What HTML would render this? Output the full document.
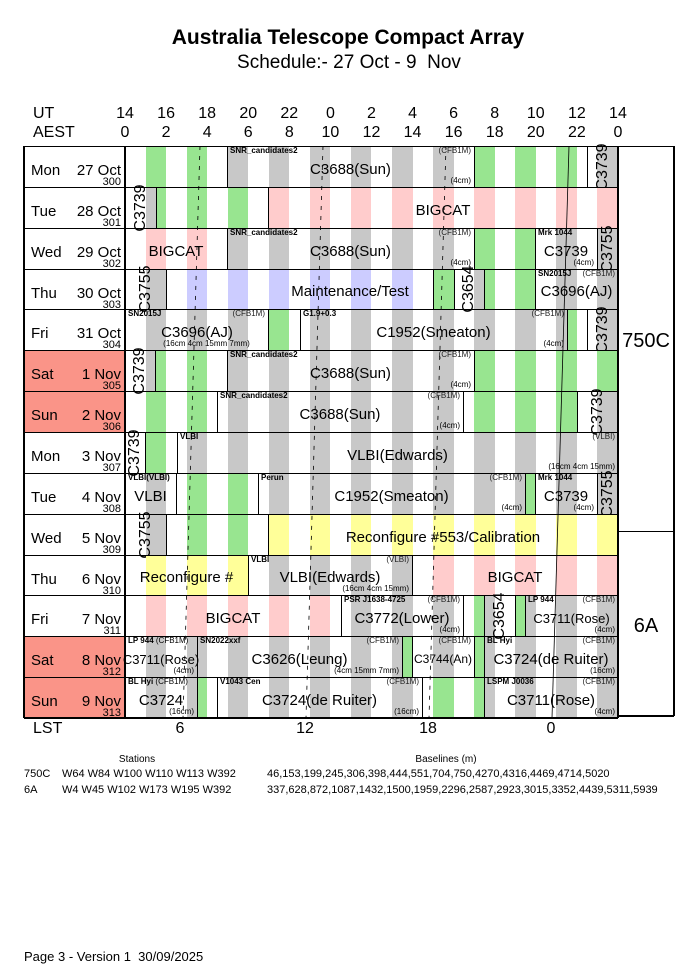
<!DOCTYPE html>
<html><head><meta charset="utf-8">
<style>
body{margin:0;background:#fff;}
#c{position:relative;width:680px;height:978px;overflow:hidden;font-family:"Liberation Sans",Arial,sans-serif;color:#000;}
.a{position:absolute;white-space:nowrap;}
.r{position:absolute;}
</style></head><body>
<div id="c">
<div class="a" style="left:0;width:696px;text-align:center;top:26px;font-size:21px;font-weight:bold;">Australia Telescope Compact Array</div>
<div class="a" style="left:0;width:698px;text-align:center;top:52px;font-size:19px;">Schedule:- 27 Oct - 9&nbsp; Nov</div>
<div class="a" style="left:33px;top:105px;font-size:16px;">UT</div>
<div class="a" style="left:33px;top:124px;font-size:16px;">AEST</div>
<div class="a" style="left:33px;top:720px;font-size:16px;">LST</div>
<div class="a" style="left:137px;top:754px;font-size:10px;transform:translateX(-50%);">Stations</div>
<div class="a" style="left:446px;top:754px;font-size:10px;transform:translateX(-50%);">Baselines (m)</div>
<div class="a" style="left:24px;top:768px;font-size:11px;">750C</div>
<div class="a" style="left:62px;top:768px;font-size:11px;">W64 W84 W100 W110 W113 W392</div>
<div class="a" style="left:267px;top:768px;font-size:11px;">46,153,199,245,306,398,444,551,704,750,4270,4316,4469,4714,5020</div>
<div class="a" style="left:24px;top:784px;font-size:11px;">6A</div>
<div class="a" style="left:62px;top:784px;font-size:11px;">W4 W45 W102 W173 W195 W392</div>
<div class="a" style="left:267px;top:784px;font-size:11px;">337,628,872,1087,1432,1500,1959,2296,2587,2923,3015,3352,4439,5311,5939</div>
<div class="a" style="left:24px;top:949px;font-size:13px;">Page 3 - Version 1&nbsp; 30/09/2025</div>
</div>
<script>
var C=document.getElementById('c');
function el(h){var d=document.createElement('div');d.innerHTML=h;var e=d.firstChild;C.appendChild(e);return e;}
function box(x,y,w,h,st){el('<div class="r" style="left:'+x+'px;top:'+y+'px;width:'+w+'px;height:'+h+'px;'+st+'"></div>');}
function txt(x,y,s,st){el('<div class="a" style="left:'+x+'px;top:'+y+'px;'+st+'">'+s+'</div>');}
var X0=125,HW=20.54,T=146,RH=40.86;
var ut=[14,16,18,20,22,0,2,4,6,8,10,12,14],ae=[0,2,4,6,8,10,12,14,16,18,20,22,0];
for(var i=0;i<13;i++){var x=X0+41.08*i;txt(x-20,105,ut[i],'width:40px;text-align:center;font-size:16px;');txt(x-20,124,ae[i],'width:40px;text-align:center;font-size:16px;');}
[[180,'6'],[305,'12'],[428,'18'],[551,'0']].forEach(function(l){txt(l[0]-20,720,l[1],'width:40px;text-align:center;font-size:16px;');});
var COL={g:'#98e590',s:'#c8c8c8',p:'#ffcccc',b:'#ccccff',y:'#ffff99',w:''};
var days=[['Mon','27 Oct',300],['Tue','28 Oct',301],['Wed','29 Oct',302],['Thu','30 Oct',303],['Fri','31 Oct',304],['Sat','1 Nov',305],['Sun','2 Nov',306],['Mon','3 Nov',307],['Tue','4 Nov',308],['Wed','5 Nov',309],['Thu','6 Nov',310],['Fri','7 Nov',311],['Sat','8 Nov',312],['Sun','9 Nov',313]];
var R=[
[[125,227,'g'],[227,474,'s','C3688(Sun)','SNR_candidates2','(CFB1M)','(4cm)'],[474,587,'g'],[587,618,'s','','','','','C3739']],
[[125,156,'s','','','','','C3739'],[156,268,'g'],[268,618,'p','BIGCAT']],
[[125,227,'p','BIGCAT'],[227,474,'s','C3688(Sun)','SNR_candidates2','(CFB1M)','(4cm)'],[474,535,'g'],[535,597,'s','C3739','Mrk 1044','','(4cm)'],[597,618,'s','','','','','C3755']],
[[125,166,'s','','','','','C3755'],[166,433,'b','Maintenance/Test','','','','',15,350],[433,454,'g'],[454,484,'s','','','','','C3654'],[484,535,'g'],[535,618,'s','C3696(AJ)','SN2015J','(CFB1M)']],
[[125,268,'s','C3696(AJ)','SN2015J','(CFB1M)','(16cm 4cm 15mm 7mm)','',15,197],[268,300,'g'],[300,567,'s','C1952(Smeaton)','G1.9+0.3','(CFB1M)','(4cm)'],[567,587,'g'],[587,618,'s','','','','','C3739']],
[[125,155,'s','','','','','C3739'],[155,227,'g'],[227,474,'s','C3688(Sun)','SNR_candidates2','(CFB1M)','(4cm)'],[474,618,'g']],
[[125,217,'g'],[217,463,'s','C3688(Sun)','SNR_candidates2','(CFB1M)','(4cm)'],[463,577,'g'],[577,618,'s','','','','','C3739']],
[[125,145,'s','','','','','C3739'],[145,177,'g'],[177,618,'s','VLBI(Edwards)','VLBI','(VLBI)','(16cm 4cm 15mm)']],
[[125,176,'s','VLBI','VLBI(VLBI)'],[176,258,'g'],[258,525,'s','C1952(Smeaton)','Perun','(CFB1M)','(4cm)'],[525,535,'g'],[535,597,'s','C3739','Mrk 1044','','(4cm)'],[597,618,'s','','','','','C3755']],
[[125,166,'s','','','','','C3755'],[166,268,'g'],[268,618,'y','Reconfigure #553/Calibration']],
[[125,248,'y','Reconfigure #'],[248,412,'s','VLBI(Edwards)','VLBI','(VLBI)','(16cm 4cm 15mm)'],[412,618,'p','BIGCAT']],
[[125,341,'p','BIGCAT'],[341,463,'s','C3772(Lower)','PSR J1638-4725','(CFB1M)','(4cm)'],[463,484,'g'],[484,515,'s','','','','','C3654'],[515,525,'g'],[525,618,'s','C3711(Rose)','LP 944','(CFB1M)','(4cm)','',13]],
[[125,197,'s','C3711(Rose)','LP 944 <span style="font-weight:normal">(CFB1M)</span>','','(4cm)','',13],[197,402,'s','C3626(Leung)','SN2022xxf','(CFB1M)','(4cm 15mm 7mm)'],[402,412,'g'],[412,474,'s','C3744(An)','','(CFB1M)','','',12],[474,484,'g'],[484,618,'s','C3724(de Ruiter)','BL Hyi','(CFB1M)','(16cm)']],
[[125,197,'s','C3724','BL Hyi <span style="font-weight:normal">(CFB1M)</span>','','(16cm)'],[197,217,'g'],[217,422,'s','C3724(de Ruiter)','V1043 Cen','(CFB1M)','(16cm)'],[422,484,'g'],[484,618,'s','C3711(Rose)','LSPM J0036','(CFB1M)','(4cm)']]
];
for(var r=0;r<14;r++){
 var y=T+RH*r, yi=Math.round(y), h=Math.round(T+RH*(r+1))-yi;
 var wk=(r==5||r==6||r==12||r==13);
 if(wk)box(24,yi,101,h,'background:#fa9488;');
 var d=days[r];
 txt(31,yi+16,d[0],'font-size:15px;');
 txt(60,yi+16,d[1],'width:61px;text-align:right;font-size:15px;');
 txt(60,yi+30,d[2],'width:61px;text-align:right;font-size:11px;');
 R[r].forEach(function(b){
  var x1=b[0],x2=b[1],c=COL[b[2]];
  if(c)for(var k=0;k<12;k++){var s1=145.5+41.08*k,s2=s1+20.54;var a=Math.max(s1,x1),e=Math.min(s2,x2);if(e>a)box(a,yi,e-a,h,'background:'+c+';');}
 });
 R[r].forEach(function(b){
  var x1=b[0],x2=b[1];
  box(x1-0.5,yi,1.5,h,'background:#000;');
  var fs=b[8]||15,cx=b[9]||(x1+x2)/2;
  if(b[3])txt(cx-100,yi+h/2-fs*0.6+3,b[3],'width:200px;text-align:center;font-size:'+fs+'px;');
  if(b[4])txt(x1+3,yi,b[4],'font-size:8px;font-weight:bold;');
  if(b[5])txt(x2-100-3,yi,b[5],'width:100px;text-align:right;font-size:8px;color:#222;');
  if(b[6]){ if(b[6].length>12&&r==4) txt(x1+20,yi+h-11,b[6],'width:'+(x2-x1-20)+'px;text-align:center;font-size:8px;');
    else txt(x2-150-3,yi+h-11,b[6],'width:150px;text-align:right;font-size:8px;');}
  if(b[7]){txt((x1+x2)/2-30,yi+h/2-9,b[7],'width:60px;height:18px;line-height:18px;text-align:center;font-size:16px;transform:rotate(-90deg);');}
 });
 box(24,yi-0.5,594,1.5,'background:#000;');
}
box(24,717,594,1.5,'background:#000;');
box(23,146,2,572,'background:#000;');
box(124,146,2,572,'background:#000;');
box(617,146,2,572,'background:#000;');
box(618,146,56,1,'background:#000;');
box(673,146,1.5,570,'background:#000;');
box(618,715,56,1.5,'background:#000;');
box(618,531,56,1,'background:#000;');
txt(618,330,'750C','width:56px;text-align:center;font-size:20px;');
txt(618,615,'6A','width:56px;text-align:center;font-size:20px;');
var s='<svg class="r" style="left:0;top:0" width="680" height="978">';
[[200,183,1],[323,306,1],[446,429,1],[569,552,0]].forEach(function(l){
 s+='<line x1="'+l[0]+'" y1="146" x2="'+l[1]+'" y2="718" stroke="#000" stroke-width="0.8" '+(l[2]?'stroke-dasharray="4,6"':'')+'/>';});
s+='</svg>';
el(s);
</script>
</body></html>
